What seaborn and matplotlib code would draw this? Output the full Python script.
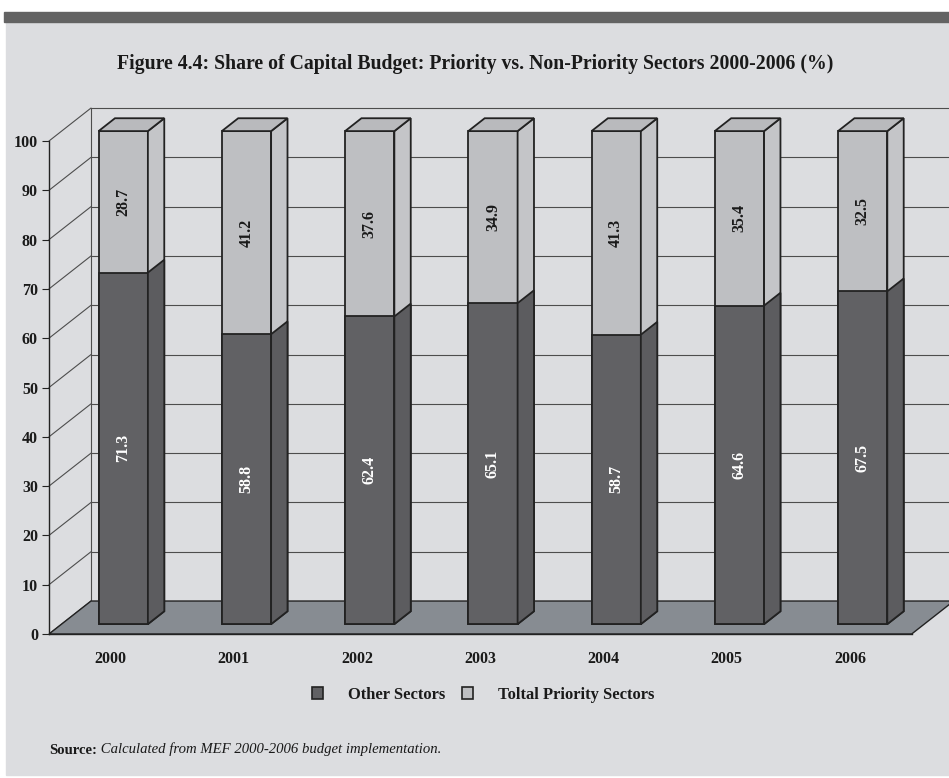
import matplotlib
matplotlib.use("Agg")
import matplotlib.pyplot as plt
from matplotlib.patches import Polygon, Rectangle, Patch
import numpy as np
import pandas as pd
import seaborn as sns

# ==========================================
# DATA
# ==========================================
YEARS = ["2000", "2001", "2002", "2003", "2004", "2005", "2006"]
OTHER = [71.3, 58.8, 62.4, 65.1, 58.7, 64.6, 67.5]
PRIORITY = [28.7, 41.2, 37.6, 34.9, 41.3, 35.4, 32.5]
Y_TICKS = list(range(0, 101, 10))
SERIES = ["Other Sectors", "Toltal Priority Sectors"]
TITLE = "Figure 4.4: Share of Capital Budget: Priority vs. Non-Priority Sectors 2000-2006 (%)"
SOURCE_HEAD = "Source:"
SOURCE_BODY = "Calculated from MEF 2000-2006 budget implementation."

# ==========================================
# STYLE
# ==========================================
PANEL = "#dcdde0"
BAND = "#636363"
FLOOR = "#878c92"
GRID = "#4d4d4d"
EDGE = "#222222"
DARK_FRONT = "#616164"
DARK_SIDE = "#5c5c5f"
LIGHT_FRONT = "#bebfc2"
LIGHT_SIDE = "#c4c5c8"
LIGHT_TOP = "#b9babd"
TEXT = "#1a1a1a"

# 3D box depth in data units, and the slab of it the bars occupy
DEPTH_X, DEPTH_Y = 0.341, 6.69
BAR_Z0, BAR_Z1 = 0.30, 0.69
BAR_WIDTH = 0.4

sns.set_theme(style="white")
plt.rcParams["font.family"] = ["Liberation Serif", "DejaVu Serif"]
plt.rcParams["font.weight"] = "bold"

df = pd.DataFrame({"year": YEARS, "other": OTHER, "priority": PRIORITY})
df["total"] = df["other"] + df["priority"]

fig = plt.figure(figsize=(9.49, 7.78), dpi=100, facecolor="white")
fig.patches.append(Rectangle((6 / 949, 3 / 778), 943 / 949, 753 / 778,
                             transform=fig.transFigure, color=PANEL, zorder=-10))
fig.patches.append(Rectangle((4 / 949, 756 / 778), 945 / 949, 10 / 778,
                             transform=fig.transFigure, color=BAND, zorder=-10))

ax = fig.add_axes([49 / 949, 144 / 778, 900 / 949, 108 * 4.93 / 778])
ax.set_facecolor("none")

n = len(YEARS)
x0, x1 = -0.5, n - 0.5

# walls: diagonals on the left wall, horizontal grid on the back wall
for v in Y_TICKS:
    ax.plot([x0, x0 + DEPTH_X], [v, v + DEPTH_Y], color=GRID, lw=0.8, clip_on=False, zorder=1)
    if v > 0:
        ax.plot([x0 + DEPTH_X, x1 + DEPTH_X], [v + DEPTH_Y, v + DEPTH_Y],
                color=GRID, lw=0.8, clip_on=False, zorder=1)
ax.plot([x0 + DEPTH_X] * 2, [DEPTH_Y, Y_TICKS[-1] + DEPTH_Y], color=GRID, lw=0.8,
        clip_on=False, zorder=1)

# floor
ax.add_patch(Polygon([(x0, 0), (x1, 0), (x1 + DEPTH_X, DEPTH_Y), (x0 + DEPTH_X, DEPTH_Y)],
                     closed=True, facecolor=FLOOR, edgecolor=EDGE, lw=1.0, zorder=2,
                     clip_on=True))

# bars: full-height light bars, dark "other" bars on top of them
sns.barplot(data=df, x="year", y="total", color=LIGHT_FRONT, saturation=1, width=BAR_WIDTH,
            edgecolor=EDGE, linewidth=1.3, errorbar=None, ax=ax, zorder=3)
sns.barplot(data=df, x="year", y="other", color=DARK_FRONT, saturation=1, width=BAR_WIDTH,
            edgecolor=EDGE, linewidth=1.3, errorbar=None, ax=ax, zorder=5)

sx, sy = BAR_Z0 * DEPTH_X, BAR_Z0 * DEPTH_Y
bdx, bdy = (BAR_Z1 - BAR_Z0) * DEPTH_X, (BAR_Z1 - BAR_Z0) * DEPTH_Y

light_bars = ax.containers[0]
dark_bars = ax.containers[1]

for rect in list(light_bars) + list(dark_bars):
    rect.set_x(rect.get_x() + sx)
    rect.set_y(rect.get_y() + sy)


def side_face(rect, color, z):
    xr = rect.get_x() + rect.get_width()
    yb = rect.get_y()
    yt = yb + rect.get_height()
    ax.add_patch(Polygon([(xr, yb), (xr + bdx, yb + bdy), (xr + bdx, yt + bdy), (xr, yt)],
                         closed=True, facecolor=color, edgecolor=EDGE, lw=1.3, zorder=z,
                         clip_on=False))


for lr, dr in zip(light_bars, dark_bars):
    side_face(lr, LIGHT_SIDE, 3)
    xl = lr.get_x()
    xr = xl + lr.get_width()
    yt = lr.get_y() + lr.get_height()
    ax.add_patch(Polygon([(xl, yt), (xr, yt), (xr + bdx, yt + bdy), (xl + bdx, yt + bdy)],
                         closed=True, facecolor=LIGHT_TOP, edgecolor=EDGE, lw=1.3, zorder=3,
                         clip_on=False))
    side_face(dr, DARK_SIDE, 5)

# value labels
for lr, dr, o, p in zip(light_bars, dark_bars, OTHER, PRIORITY):
    cx = dr.get_x() + dr.get_width() / 2
    dark_top = dr.get_y() + dr.get_height()
    light_top = lr.get_y() + lr.get_height()
    ax.text(cx, dr.get_y() + dr.get_height() / 2, f"{o:.1f}", rotation=90, ha="center",
            va="center", color="white", fontsize=11.5, zorder=6)
    ax.text(cx, (dark_top + light_top) / 2, f"{p:.1f}", rotation=90, ha="center",
            va="center", color=TEXT, fontsize=11.5, zorder=6)

# axes
ax.set_xlim(x0, x0 + 900 / 123.24)
ax.set_ylim(0, 108)
ax.set_xlabel("")
ax.set_ylabel("")
for s in ["top", "right"]:
    ax.spines[s].set_visible(False)
ax.spines["left"].set_bounds(0, Y_TICKS[-1])
ax.spines["bottom"].set_bounds(x0, x1)
for s in ["left", "bottom"]:
    ax.spines[s].set_color(EDGE)
    ax.spines[s].set_linewidth(1.0)
    ax.spines[s].set_zorder(7)
ax.set_yticks(Y_TICKS)
ax.set_xticks(range(n))
ax.set_xticklabels(YEARS)
ax.set_xticks(np.arange(n + 1) - 0.5, minor=True)
ax.tick_params(axis="x", which="major", length=0, pad=12, labelsize=11.5, labelcolor=TEXT)
ax.tick_params(axis="x", which="minor", length=8, width=1.0, color=EDGE)
ax.tick_params(axis="y", which="major", length=5, width=0.8, color=EDGE, pad=3,
               labelsize=11.5, labelcolor=TEXT, left=True)
ax.tick_params(axis="y", which="minor", left=False)

# legend
handles = [Patch(facecolor=DARK_FRONT, edgecolor=EDGE, lw=1.2),
           Patch(facecolor=LIGHT_FRONT, edgecolor=EDGE, lw=1.2)]
fig.legend(handles, SERIES, loc="center", bbox_to_anchor=(0.509, 1 - 695 / 778), ncol=2,
           frameon=False, fontsize=11.9, handlelength=0.7, handleheight=0.7,
           handletextpad=1.5, columnspacing=1.0, labelcolor=TEXT)

# title and source
fig.text(0.5005, 1 - 64 / 778, TITLE, ha="center", va="center", fontsize=14.2, color=TEXT)
head = fig.text(49 / 949, 1 - 750 / 778, SOURCE_HEAD, ha="left", va="center",
                fontsize=10.6, color=TEXT)
ax.annotate(" " + SOURCE_BODY, xy=(1, 0), xycoords=head, ha="left", va="bottom",
            fontsize=10.6, fontstyle="italic", fontweight="normal", color=TEXT,
            annotation_clip=False)

fig.savefig("out.png", dpi=100, facecolor="white")
